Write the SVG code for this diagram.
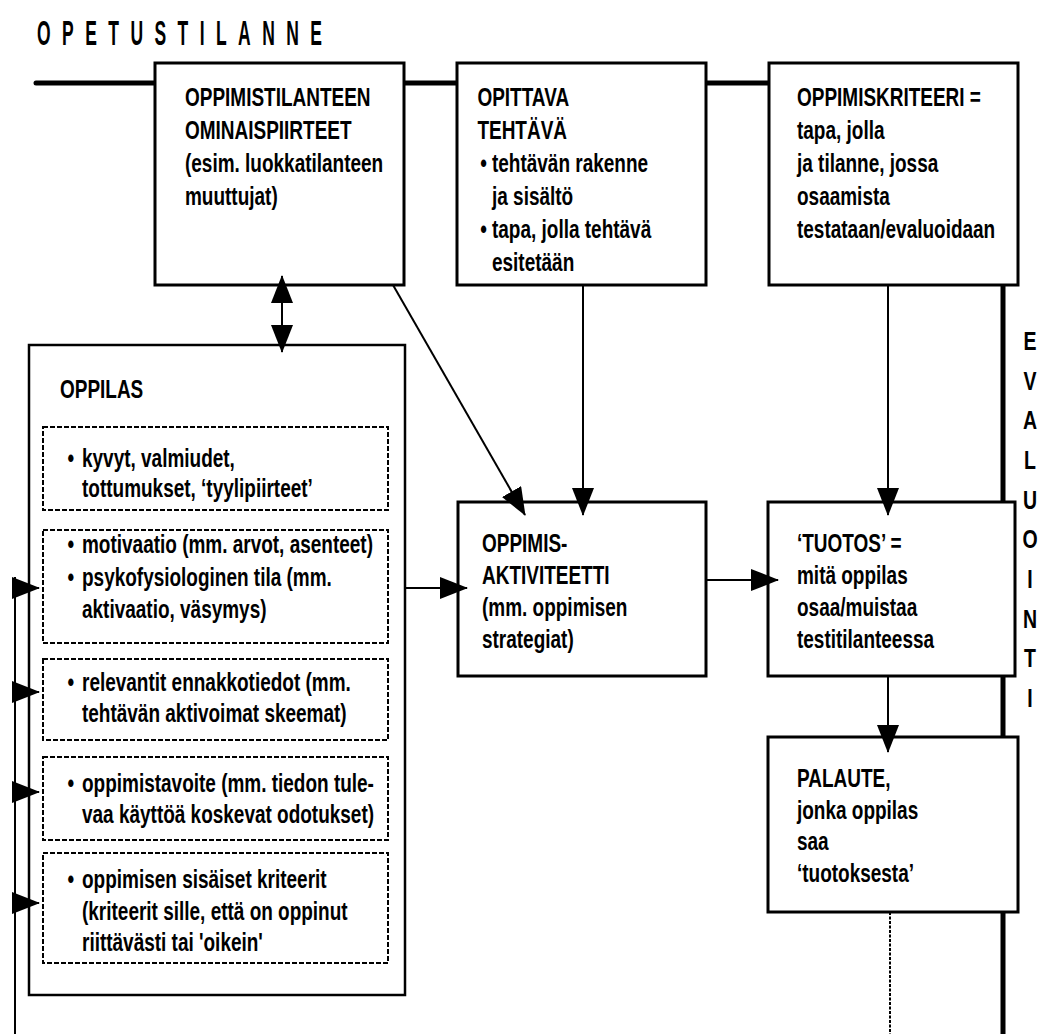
<svg xmlns="http://www.w3.org/2000/svg" width="1050" height="1034" viewBox="0 0 1050 1034">
  <style>
    .box { fill: #fff; stroke: #000; stroke-width: 3; }
    .outer { fill: #fff; stroke: #000; stroke-width: 2.5; }
    .dbox { fill: none; stroke: #000; stroke-width: 2; stroke-dasharray: 5 2; }
    .t { font-family: "Liberation Sans", Arial, sans-serif; font-size: 26px; font-weight: bold; fill: #000; }
    .head { font-family: "Liberation Sans", Arial, sans-serif; font-size: 35px; font-weight: bold; fill: #000; }
    .side { font-family: "Liberation Sans", Arial, sans-serif; font-size: 25px; font-weight: bold; fill: #000; text-anchor: middle; }
    .rail { stroke: #000; stroke-width: 5; fill: none; }
    .link { stroke: #000; stroke-width: 2; fill: none; }
  </style>
  <defs>
    <marker id="ah" markerUnits="userSpaceOnUse" markerWidth="28" markerHeight="22" viewBox="0 0 28 22" refX="27" refY="11" orient="auto-start-reverse">
      <path d="M0,0 L28,11 L0,22 z" fill="#000"/>
    </marker>
  </defs>

  <rect width="1050" height="1034" fill="#fff"/>

  <!-- heading and side label -->
  <text class="head" transform="translate(37 0) scale(0.5 1)" x="0" y="45" textLength="570" lengthAdjust="spacing">OPETUSTILANNE</text>
  <g transform="translate(1030 0) scale(0.78 1)">
    <text class="side" x="0" y="350">E</text>
    <text class="side" x="0" y="390">V</text>
    <text class="side" x="0" y="429">A</text>
    <text class="side" x="0" y="469">L</text>
    <text class="side" x="0" y="509">U</text>
    <text class="side" x="0" y="548">O</text>
    <text class="side" x="0" y="588">I</text>
    <text class="side" x="0" y="628">N</text>
    <text class="side" x="0" y="667">T</text>
    <text class="side" x="0" y="707">I</text>
  </g>

  <!-- heavy rails: teaching situation (top) and evaluation (right) -->
  <g id="rails">
    <line class="rail" x1="36" y1="83" x2="1015" y2="83" stroke-linecap="round"/>
    <line class="rail" x1="1003" y1="280" x2="1003" y2="1034"/>
  </g>

  <g id="oppimistilanne">
    <rect class="box" x="155" y="63" width="249" height="222"/>
    <text class="t" transform="translate(185 0) scale(0.73 1)">
      <tspan x="0" y="106">OPPIMISTILANTEEN</tspan>
      <tspan x="0" y="139">OMINAISPIIRTEET</tspan>
      <tspan x="0" y="172">(esim. luokkatilanteen</tspan>
      <tspan x="0" y="205">muuttujat)</tspan>
    </text>
  </g>

  <g id="tehtava">
    <rect class="box" x="457" y="63" width="249" height="222"/>
    <text class="t" transform="translate(492 0) scale(0.73 1)">
      <tspan x="-20" y="106">OPITTAVA</tspan>
      <tspan x="-20" y="139">TEHTÄVÄ</tspan>
      <tspan x="-16" y="172">•</tspan><tspan x="0" y="172">tehtävän rakenne</tspan>
      <tspan x="0" y="205">ja sisältö</tspan>
      <tspan x="-16" y="238">•</tspan><tspan x="0" y="238">tapa, jolla tehtävä</tspan>
      <tspan x="0" y="271">esitetään</tspan>
    </text>
  </g>

  <g id="kriteeri">
    <rect class="box" x="769" y="63" width="249" height="222"/>
    <text class="t" transform="translate(797 0) scale(0.73 1)">
      <tspan x="0" y="106">OPPIMISKRITEERI =</tspan>
      <tspan x="0" y="139">tapa, jolla</tspan>
      <tspan x="0" y="172">ja tilanne, jossa</tspan>
      <tspan x="0" y="205">osaamista</tspan>
      <tspan x="0" y="238">testataan/evaluoidaan</tspan>
    </text>
  </g>

  <g id="oppilas">
    <rect class="outer" x="29" y="345" width="376" height="650"/>
    <text class="t" transform="translate(60 0) scale(0.73 1)"><tspan x="0" y="398">OPPILAS</tspan></text>
    <rect class="dbox" x="43" y="427" width="345" height="83"/>
    <rect class="dbox" x="43" y="530" width="345" height="113"/>
    <rect class="dbox" x="43" y="659" width="345" height="81"/>
    <rect class="dbox" x="43" y="757" width="345" height="83"/>
    <rect class="dbox" x="43" y="853" width="345" height="110"/>
    <text class="t" transform="translate(82 0) scale(0.73 1)">
      <tspan x="-20" y="467">•</tspan><tspan x="0" y="467">kyvyt, valmiudet,</tspan>
      <tspan x="0" y="497">tottumukset, ‘tyylipiirteet’</tspan>
      <tspan x="-20" y="553">•</tspan><tspan x="0" y="553">motivaatio (mm. arvot, asenteet)</tspan>
      <tspan x="-20" y="586">•</tspan><tspan x="0" y="586">psykofysiologinen tila (mm.</tspan>
      <tspan x="0" y="618">aktivaatio, väsymys)</tspan>
      <tspan x="-20" y="691">•</tspan><tspan x="0" y="691">relevantit ennakkotiedot (mm.</tspan>
      <tspan x="0" y="722">tehtävän aktivoimat skeemat)</tspan>
      <tspan x="-20" y="792">•</tspan><tspan x="0" y="792">oppimistavoite (mm. tiedon tule-</tspan>
      <tspan x="0" y="823">vaa käyttöä koskevat odotukset)</tspan>
      <tspan x="-20" y="888">•</tspan><tspan x="0" y="888">oppimisen sisäiset kriteerit</tspan>
      <tspan x="0" y="920">(kriteerit sille, että on oppinut</tspan>
      <tspan x="0" y="951">riittävästi tai 'oikein'</tspan>
    </text>
  </g>

  <g id="aktiviteetti">
    <rect class="box" x="458" y="502" width="248" height="174"/>
    <text class="t" transform="translate(482 0) scale(0.73 1)">
      <tspan x="0" y="552">OPPIMIS-</tspan>
      <tspan x="0" y="584">AKTIVITEETTI</tspan>
      <tspan x="0" y="616">(mm. oppimisen</tspan>
      <tspan x="0" y="648">strategiat)</tspan>
    </text>
  </g>

  <g id="tuotos">
    <rect class="box" x="768" y="502" width="247" height="174"/>
    <text class="t" transform="translate(797 0) scale(0.73 1)">
      <tspan x="0" y="552">‘TUOTOS’ =</tspan>
      <tspan x="0" y="584">mitä oppilas</tspan>
      <tspan x="0" y="616">osaa/muistaa</tspan>
      <tspan x="0" y="648">testitilanteessa</tspan>
    </text>
  </g>

  <g id="palaute">
    <rect class="box" x="768" y="737" width="250" height="175"/>
    <text class="t" transform="translate(797 0) scale(0.73 1)">
      <tspan x="0" y="787">PALAUTE,</tspan>
      <tspan x="0" y="819">jonka oppilas</tspan>
      <tspan x="0" y="850">saa</tspan>
      <tspan x="0" y="882">‘tuotoksesta’</tspan>
    </text>
  </g>

  <g id="connectors">
    <line class="link" x1="282" y1="276" x2="282" y2="352" marker-start="url(#ah)" marker-end="url(#ah)"/>
    <line class="link" x1="393" y1="285" x2="525" y2="515" marker-end="url(#ah)"/>
    <line class="link" x1="583" y1="285" x2="583" y2="515" marker-end="url(#ah)"/>
    <line class="link" x1="888" y1="285" x2="888" y2="515" marker-end="url(#ah)"/>
    <line class="link" x1="405" y1="588" x2="467" y2="588" marker-end="url(#ah)"/>
    <line class="link" x1="706" y1="580" x2="778" y2="580" marker-end="url(#ah)"/>
    <line class="link" x1="888" y1="676" x2="888" y2="752" marker-end="url(#ah)"/>
    <line class="link" x1="890" y1="912" x2="890" y2="1034" stroke-width="1.5" stroke-dasharray="3 1.5"/>
    <!-- feedback from below into the learner's inner states -->
    <line class="link" x1="15" y1="577" x2="15" y2="1034" stroke-width="2.5"/>
    <line class="link" x1="15" y1="588" x2="39" y2="588" marker-end="url(#ah)"/>
    <line class="link" x1="15" y1="692" x2="39" y2="692" marker-end="url(#ah)"/>
    <line class="link" x1="15" y1="792" x2="39" y2="792" marker-end="url(#ah)"/>
    <line class="link" x1="15" y1="903" x2="39" y2="903" marker-end="url(#ah)"/>
  </g>
</svg>
